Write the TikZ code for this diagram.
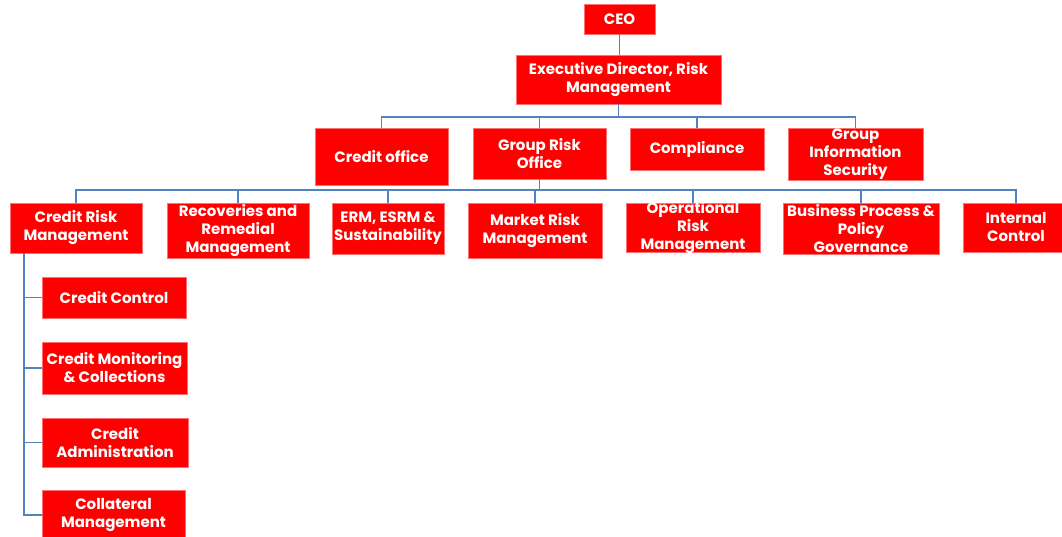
\documentclass[tikz,border=0pt]{standalone}
\usepackage{fontspec}
\setmainfont{Poppins}
\usetikzlibrary{calc}
\definecolor{boxred}{HTML}{FF0000}
\definecolor{boxedge}{HTML}{FF7070}
\definecolor{linkblue}{HTML}{5183C0}
\tikzset{
  orgbox/.style={fill=boxred, draw=boxedge, line width=0.6pt, inner sep=0pt, outer sep=0pt},
  orglabel/.style={text=white, font=\bfseries\fontsize{15}{18}\selectfont, align=center, inner sep=0pt},
  link/.style={draw=linkblue, line width=1.4pt}
}
\newcommand{\orgunit}[6]{%
  \node[orgbox, minimum width={(#4-(#2))*1pt}, minimum height={(#5-(#3))*1pt}] (#1) at ({(#2+#4)/2},{(#3+#5)/2}) {};
  \node[orglabel] (#1-t) at (#1.center) {#6};
}
\begin{document}
\begin{tikzpicture}[x=1pt,y=-1pt]
\useasboundingbox[fill=white] (0,0) rectangle (1062,537);
\coordinate (busA) at (0,117);
\coordinate (busB) at (0,190);
% boxes
\orgunit{ceo}{584}{4}{655}{34}{CEO}
\orgunit{ed}{516}{55}{721}{104}{Executive Director, Risk\\Management}
\orgunit{co}{315}{128}{448}{185}{Credit office}
\orgunit{gro}{473}{128}{606}{179}{Group Risk\\Office}
\orgunit{comp}{630}{128}{764}{170}{Compliance}
\orgunit{gis}{788}{128}{923}{180}{Group\\Information\\Security}
\orgunit{crm}{10}{203}{142}{253}{Credit Risk\\Management}
\orgunit{rec}{167}{203}{309}{258}{Recoveries and\\Remedial\\Management}
\orgunit{erm}{332}{203}{444}{254}{ERM, ESRM \&\\Sustainability}
\orgunit{mr}{468}{203}{602}{258}{Market Risk\\Management}
\orgunit{op}{626}{203}{760}{252}{Operational\\Risk\\Management}
\orgunit{bp}{783}{203}{939}{254}{Business Process \&\\Policy\\Governance}
\orgunit{ic}{963}{203}{1069}{252}{Internal\\Control}
\orgunit{cc}{42}{277}{186}{318}{Credit Control}
\orgunit{cm}{42}{342}{187}{394}{Credit Monitoring\\\& Collections}
\orgunit{ca}{42}{418}{188}{467}{Credit\\Administration}
\orgunit{cl}{42}{490}{185}{540}{Collateral\\Management}
% connectors
\draw[link] (ceo.south) -- (ceo.south |- ed.north);
\foreach \c in {co,gro,comp,gis}
  \draw[link] (ed.south) -- (ed.south |- busA) -| (\c.north);
\foreach \c in {crm,rec,erm,mr,op,bp,ic}
  \draw[link] (gro.south) -- (gro.south |- busB) -| (\c.north);
\coordinate (trunk) at ($(crm.south west)+(14,0)$);
\foreach \c in {cc,cm,ca,cl}
  \draw[link] (trunk) |- (\c.west);
\end{tikzpicture}
\end{document}
